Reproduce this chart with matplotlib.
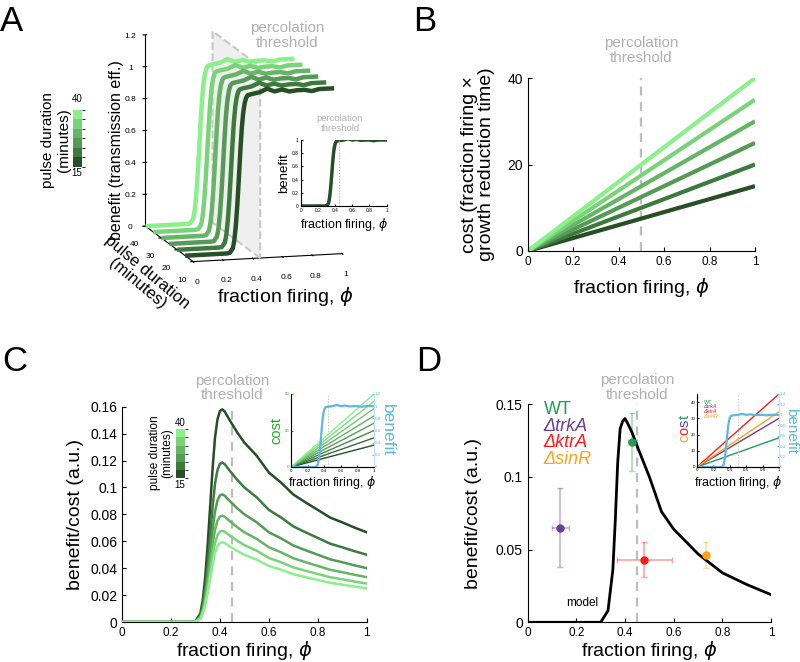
import matplotlib
matplotlib.use('Agg')
import matplotlib.pyplot as plt
from matplotlib.colors import ListedColormap, BoundaryNorm, LinearSegmentedColormap
from matplotlib.cm import ScalarMappable
from mpl_toolkits.mplot3d.art3d import Poly3DCollection

plt.rcParams['font.family'] = ['Liberation Sans', 'DejaVu Sans']
plt.rcParams['mathtext.fontset'] = 'dejavusans'

# ---- data ----
durations = [15, 20, 25, 30, 35, 40]
greens = ['#264f26', '#3d7a3d', '#559a55', '#66b566', '#79d479', '#8af08a']

phi = [0, 0.1, 0.2, 0.28, 0.30, 0.32, 0.33, 0.34, 0.35, 0.36, 0.37, 0.38, 0.39,
       0.40, 0.41, 0.42, 0.44, 0.47, 0.50, 0.55, 0.60, 0.65, 0.70, 0.75, 0.80,
       0.85, 0.90, 0.95, 1.0]
benefit = [0, 0, 0, 0, 0.003, 0.03, 0.08, 0.17, 0.30, 0.46, 0.63, 0.78, 0.88,
           0.94, 0.972, 0.985, 0.99, 0.995, 1.0, 1.02, 1.0, 1.01, 0.995, 1.0, 1.0,
           0.99, 1.0, 1.0, 1.0]

cost_end = [15, 20, 25, 30, 35, 40]          # cost at phi = 1 (panel B)
inset_cost_end = [15, 20, 25, 30, 35, 40, 45, 50]   # inset of panel C

model_phi = [0, 0.30, 0.33, 0.35, 0.36, 0.37, 0.38, 0.39, 0.40, 0.41, 0.43,
             0.45, 0.50, 0.55, 0.60, 0.70, 0.80, 0.90, 1.0]
model_bc = [0, 0, 0.008, 0.036, 0.07, 0.11, 0.133, 0.138, 0.140, 0.137, 0.130,
            0.121, 0.100, 0.076, 0.064, 0.047, 0.034, 0.026, 0.019]

strains = ['WT', '\u0394trkA', '\u0394ktrA', '\u0394sinR']
strain_colors = ['#1f9e55', '#6a3d9a', '#ff1a1a', '#ffa31a']
strain_phi = [0.430, 0.133, 0.478, 0.731]
strain_phi_lo = [0.411, 0.099, 0.366, 0.718]
strain_phi_hi = [0.451, 0.170, 0.592, 0.745]
strain_bc = [0.124, 0.065, 0.043, 0.046]
strain_bc_lo = [0.104, 0.038, 0.031, 0.037]
strain_bc_hi = [0.144, 0.092, 0.055, 0.055]
strain_cost_end = [18, 30, 45, 34]

threshold_A = 0.45
threshold_B = 0.5
blue = '#5cb8e0'
dash_gray = '#bdbdbd'

W, H = 800, 662
fig = plt.figure(figsize=(W / 100, H / 100), dpi=100)


def rect(l, t, r, b):
    return [l / W, 1 - b / H, (r - l) / W, (b - t) / H]


def ftxt(x, y, s, **kw):
    return fig.text(x / W, 1 - y / H, s, **kw)


def fmt(v):
    return '%g' % v


def style2d(ax, xsize=8.5, ysize=10):
    for s in ['top', 'right']:
        ax.spines[s].set_visible(False)
    ax.tick_params(direction='in', length=3, width=0.8)
    ax.tick_params(axis='x', labelsize=xsize)
    ax.tick_params(axis='y', labelsize=ysize)


xt = [0, 0.2, 0.4, 0.6, 0.8, 1]
xlab = 'fraction firing, $\\phi$'

# ---- panel letters ----
for s, x, y in [('A', 0, 5), ('B', 413, 5), ('C', 2, 345), ('D', 416, 345)]:
    ftxt(x, y, s, fontsize=25, va='top', ha='left')

# ---- panel A (3D) ----
ax3 = fig.add_axes(rect(90, 8, 390, 288), projection='3d', computed_zorder=False)
ax3.set_proj_type('ortho')
ax3.view_init(elev=11.5, azim=-105)
for d, c in reversed(list(zip(durations, greens))):
    ax3.plot(phi, [d] * len(phi), benefit, color=c, lw=3.2, solid_capstyle='butt')
plane = [[(threshold_A, 10, 0), (threshold_A, 40, 0), (threshold_A, 40, 1.2),
          (threshold_A, 10, 1.2)]]
ax3.add_collection3d(Poly3DCollection(plane, facecolor=(0.85, 0.85, 0.85, 0.4),
                                      edgecolor='#c8c8c8', linestyle='--', lw=1.5))
ax3.set_xlim(0, 1)
ax3.set_ylim(10, 40)
ax3.set_zlim(0, 1.2)
ax3.set_xticks(xt)
ax3.set_xticklabels([fmt(v) for v in xt])
ax3.set_yticks([10, 20, 30, 40])
ax3.set_zticks([0, 0.2, 0.4, 0.6, 0.8, 1, 1.2])
ax3.set_zticklabels([fmt(v) for v in [0, 0.2, 0.4, 0.6, 0.8, 1, 1.2]])
ax3.set_box_aspect((1.09, 1.3, 1.38), zoom=1.073)
ax3.grid(False)
for axis in (ax3.xaxis, ax3.yaxis, ax3.zaxis):
    axis.set_pane_color((1, 1, 1, 0))
    axis.pane.set_edgecolor((1, 1, 1, 0))
    axis.line.set_linewidth(0.8)
ax3.tick_params(labelsize=6, pad=0)
ax3.patch.set_alpha(0)

ftxt(117, 150, 'benefit (transmission eff.)', fontsize=11.5, rotation=90,
     ha='center', va='center')
ftxt(142, 278, 'pulse duration\n(minutes)', fontsize=12, rotation=-40,
     ha='center', va='center', linespacing=1.0)
ftxt(285, 296, xlab, fontsize=14, ha='center', va='center')
ftxt(287, 50, 'percolation\nthreshold', fontsize=11, color='#b0b0b0',
     ha='center', va='bottom', linespacing=1.05)

# colorbar A
cmap6 = ListedColormap(greens)
norm6 = BoundaryNorm([15 + 25 * i / 6 for i in range(7)], 6)
caxA = fig.add_axes(rect(72.7, 110, 81.7, 166.7))
cbA = fig.colorbar(ScalarMappable(norm=norm6, cmap=cmap6), cax=caxA)
cbA.set_ticks([])
cbA.outline.set_visible(False)
ftxt(77, 104, '40', fontsize=7, ha='center', va='bottom')
ftxt(77, 168, '15', fontsize=7, ha='center', va='top')
ftxt(56, 140, 'pulse duration\n(minutes)', fontsize=11, rotation=90,
     ha='center', va='center', linespacing=1.1)

# inset A
axAi = fig.add_axes(rect(300.7, 140, 386.7, 206))
axAi.plot(phi, benefit, color=greens[0], lw=2.5)
axAi.axvline(threshold_A, color='#aaaaaa', ls=':', lw=0.8)
axAi.set_xlim(0, 1)
axAi.set_ylim(0, 1)
axAi.set_xticks(xt)
axAi.set_xticklabels([fmt(v) for v in xt])
axAi.set_yticks([0, 0.2, 0.4, 0.6, 0.8, 1])
axAi.set_yticklabels([fmt(v) for v in [0, 0.2, 0.4, 0.6, 0.8, 1]])
style2d(axAi, 3.5, 3.5)
axAi.tick_params(length=1.5, pad=1.5)
axAi.set_xlabel(xlab, fontsize=9, labelpad=2)
axAi.set_ylabel('benefit', fontsize=9.5, labelpad=1)
ftxt(340, 133, 'percolation\nthreshold', fontsize=6.8, color='#b0b0b0',
     ha='center', va='bottom', linespacing=1.1)

# ---- panel B ----
axB = fig.add_axes(rect(527.7, 78, 755, 251))
for ce, c in zip(cost_end, greens):
    axB.plot([0, 1], [0, ce], color=c, lw=3, solid_capstyle='butt')
axB.axvline(threshold_B, color=dash_gray, ls=(0, (4, 3)), lw=1.6, zorder=0)
axB.set_xlim(0, 1)
axB.set_ylim(0, 40)
axB.set_xticks(xt)
axB.set_xticklabels([fmt(v) for v in xt])
axB.set_yticks([0, 20, 40])
style2d(axB)
axB.set_xlabel(xlab, fontsize=14, labelpad=6)
axB.set_ylabel('cost (fraction firing \u00d7\ngrowth reduction time)', fontsize=14,
               labelpad=9, linespacing=1.0)
axB.text(threshold_B, 1.075, 'percolation\nthreshold', transform=axB.get_xaxis_transform(),
         fontsize=11, color='#b0b0b0', ha='center', va='bottom', linespacing=1.05)

# ---- panel C ----
axC = fig.add_axes(rect(122, 406.7, 366.7, 622))
for ce, c in zip(cost_end, greens):
    ratio = [b / (ce * p) if p > 0 else 0 for p, b in zip(phi, benefit)]
    axC.plot(phi, ratio, color=c, lw=1.8, zorder=3)
axC.axvline(threshold_A, color=dash_gray, ls=(0, (4, 3)), lw=1.6, zorder=1)
axC.set_xlim(0, 1)
axC.set_ylim(0, 0.16)
axC.set_xticks(xt)
axC.set_xticklabels([fmt(v) for v in xt])
yC = [0, 0.02, 0.04, 0.06, 0.08, 0.1, 0.12, 0.14, 0.16]
axC.set_yticks(yC)
axC.set_yticklabels([fmt(v) for v in yC])
style2d(axC)
axC.set_xlabel(xlab, fontsize=14, labelpad=0)
axC.set_ylabel('benefit/cost (a.u.)', fontsize=14, labelpad=4)
axC.text(threshold_A, 1.02, 'percolation\nthreshold', transform=axC.get_xaxis_transform(),
         fontsize=11, color='#b0b0b0', ha='center', va='bottom', linespacing=1.05)

caxC = fig.add_axes(rect(175.7, 429.3, 185, 478.3))
cbC = fig.colorbar(ScalarMappable(norm=norm6, cmap=cmap6), cax=caxC)
cbC.set_ticks([])
cbC.outline.set_visible(False)
ftxt(180, 428, '40', fontsize=7, ha='center', va='bottom')
ftxt(180, 480, '15', fontsize=7, ha='center', va='top')
ftxt(161, 453, 'pulse duration\n(minutes)', fontsize=8.6, rotation=90,
     ha='center', va='center', linespacing=1.1)

# inset C
axCi = fig.add_axes(rect(291, 394, 374, 467))
gcmap = LinearSegmentedColormap.from_list('g', greens)
n = len(inset_cost_end)
for i, ce in enumerate(inset_cost_end):
    axCi.plot([0, 1], [0, ce], color=gcmap(i / (n - 1)), lw=1)
axCi.axvline(threshold_A, color='#bbbbbb', ls=':', lw=0.8)
axCi.set_xlim(0, 1)
axCi.set_ylim(0, 50)
axCi.set_xticks(xt)
axCi.set_xticklabels([fmt(v) for v in xt])
axCi.set_yticks([0, 25, 50])
style2d(axCi, 3.2, 3.2)
axCi.spines['left'].set_color('#bbbbbb')
axCi.tick_params(axis='y', colors='#22aa22', length=1.5, pad=1)
axCi.tick_params(axis='x', length=1.5, pad=1.5)
axCi.set_xlabel(xlab, fontsize=9, labelpad=1)
axCi.set_ylabel('cost', fontsize=10.5, color='#22aa22', labelpad=1)
axCi2 = axCi.twinx()
axCi2.plot(phi, benefit, color=blue, lw=1.6)
axCi2.set_ylim(0, 1.2)
axCi2.set_yticks([0, 0.2, 0.4, 0.6, 0.8, 1, 1.2])
axCi2.set_yticklabels([fmt(v) for v in [0, 0.2, 0.4, 0.6, 0.8, 1, 1.2]])
axCi2.spines['top'].set_visible(False)
axCi2.spines['right'].set_color('#bfe0f0')
axCi2.tick_params(axis='y', colors=blue, labelsize=3.2, direction='in', length=1.5, pad=0.5)
axCi2.set_ylabel('benefit', fontsize=12.5, color=blue, rotation=270, labelpad=10)

# ---- panel D ----
axD = fig.add_axes(rect(527.7, 404, 771, 622.3))
axD.plot(model_phi, model_bc, color='black', lw=2, zorder=3)
axD.axvline(threshold_A, color=dash_gray, ls=(0, (4, 3)), lw=1.6, zorder=1)
for i in range(len(strains)):
    c = strain_colors[i]
    axD.errorbar([strain_phi[i]], [strain_bc[i]],
                 xerr=[[strain_phi[i] - strain_phi_lo[i]], [strain_phi_hi[i] - strain_phi[i]]],
                 yerr=[[strain_bc[i] - strain_bc_lo[i]], [strain_bc_hi[i] - strain_bc[i]]],
                 fmt='none', ecolor=c, alpha=0.4, elinewidth=1.2, capsize=2, zorder=2)
    axD.plot([strain_phi[i]], [strain_bc[i]], 'o', color=c, ms=5, zorder=4)
axD.set_xlim(0, 1)
axD.set_ylim(0, 0.15)
axD.set_xticks(xt)
axD.set_xticklabels([fmt(v) for v in xt])
yD = [0, 0.05, 0.1, 0.15]
axD.set_yticks(yD)
axD.set_yticklabels([fmt(v) for v in yD])
style2d(axD)
axD.set_xlabel(xlab, fontsize=14, labelpad=0)
axD.set_ylabel('benefit/cost (a.u.)', fontsize=14, labelpad=10)
axD.text(threshold_A, 1.01, 'percolation\nthreshold', transform=axD.get_xaxis_transform(),
         fontsize=11, color='#b0b0b0', ha='center', va='bottom', linespacing=1.05)
for i, s in enumerate(strains):
    axD.text(0.065, 0.146 - i * 0.0113, s, color=strain_colors[i], fontsize=13,
             style='normal' if i == 0 else 'italic', ha='left', va='center')
axD.text(0.16, 0.013, 'model', fontsize=8.5, ha='left', va='center')

# inset D
axDi = fig.add_axes(rect(697, 394, 779, 467))
for ce, c in zip(strain_cost_end, strain_colors):
    axDi.plot([0, 1], [0, ce], color=c, lw=1)
axDi.axvline(threshold_B, color='#bbbbbb', ls=':', lw=0.8)
axDi.set_xlim(0, 1)
axDi.set_ylim(0, 45)
axDi.set_xticks(xt)
axDi.set_xticklabels([fmt(v) for v in xt])
axDi.set_yticks([0, 10, 20, 30, 40])
style2d(axDi, 3.2, 3.2)
axDi.spines['left'].set_color('#bbbbbb')
axDi.tick_params(length=1.5, pad=1)
axDi.set_xlabel(xlab, fontsize=9, labelpad=1)
for i, s in enumerate(strains):
    axDi.text(0.08, 40 - i * 3, s, color=strain_colors[i], fontsize=4,
              style='normal' if i == 0 else 'italic', ha='left', va='center')
axDi2 = axDi.twinx()
axDi2.plot(phi, benefit, color=blue, lw=1.6)
axDi2.set_ylim(0, 1.4)
axDi2.set_yticks([0, 0.2, 0.4, 0.6, 0.8, 1, 1.2, 1.4])
axDi2.set_yticklabels([fmt(v) for v in [0, 0.2, 0.4, 0.6, 0.8, 1, 1.2, 1.4]])
axDi2.spines['top'].set_visible(False)
axDi2.spines['right'].set_color('#bfe0f0')
axDi2.tick_params(axis='y', colors=blue, labelsize=3.2, direction='in', length=1.5, pad=0.5)
axDi2.set_ylabel('benefit', fontsize=11, color=blue, rotation=270, labelpad=9)
# multicoloured "cost" label
cost_letters = ['c', 'o', 's', 't']
cost_colors = ['#ffa31a', '#ff1a1a', '#6a3d9a', '#1f9e55']
advance = [0, 5.3, 11.1, 16.4]
for ch, c, a in zip(cost_letters, cost_colors, advance):
    axDi.annotate(ch, xy=(-0.1, 0.34), xycoords='axes fraction',
                  xytext=(0, a), textcoords='offset points', rotation=90,
                  rotation_mode='anchor', ha='left', va='baseline',
                  fontsize=10.5, color=c)

fig.savefig('out.png', dpi=100)
